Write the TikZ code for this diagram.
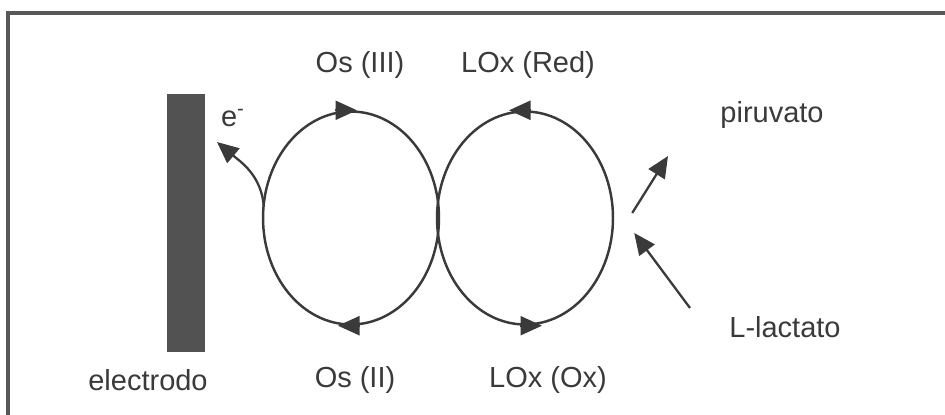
\documentclass[tikz,border=0pt]{standalone}
\usepackage{fontspec}
\setmainfont{Liberation Sans}
\usetikzlibrary{arrows.meta,shapes.geometric,calc}
\definecolor{ink}{HTML}{3A3A3A}
\begin{document}
\begin{tikzpicture}[x=0.02cm,y=0.02cm,
  font=\fontsize{16.5}{19}\selectfont, text=ink,
  t/.style={inner sep=0pt,anchor=center},
  lp/.style={draw=ink,line width=1.4pt,ellipse,inner sep=0pt,
            minimum width=3.52cm,minimum height=4.26cm},
  a/.style={draw=ink,line width=1.3pt,-{Triangle[length=4.3mm,width=3.8mm]}}]
\useasboundingbox (0,0) rectangle (945,-415);
\draw[line width=1.9pt,draw=ink!85] (8,-415) -- (8,-13) -- (945,-13);
\node[fill=ink!88,inner sep=0pt,minimum width=0.76cm,minimum height=5.16cm] (el) at (186,-223) {};
\node[lp] (os) at (351,-218) {};
\node[lp] (lox) at (525,-218) {};
% ciclos
\draw[a] ($(os.north)+(-16,0)$) -- ($(os.north)+(6,0)$);
\draw[a] ($(os.south)+(9,0)$) -- ($(os.south)+(-13,0)$);
\draw[a] ($(lox.north)+(6,0)$) -- ($(lox.north)+(-16,0)$);
\draw[a] ($(lox.south)+(-5,0)$) -- ($(lox.south)+(17,0)$);
% etiquetas
\node[t] (osiii) at (360,-65) {Os (III)};
\node[t] (loxred) at (528,-65) {LOx (Red)};
\node[t] (osii) at (355,-380) {Os (II)};
\node[t] (loxox) at (548,-380) {LOx (Ox)};
\node[t] (elec) at (148,-380) {electrodo};
\node[t] (elab) at (233,-118) {e\textsuperscript{-}};
\node[t] (piru) at (772,-115) {piruvato};
\node[t] (lact) at (785,-327) {L-lactato};
% flechas
\coordinate (etip) at (217,-142);
\coordinate (ptip) at (668,-156);
\coordinate (lst) at (690,-308);
\draw[a] ($(os.west)+(2,12)$) to[out=95,in=-40] (etip);
\draw[a] ($(lox.east)+(18,5)$) -- (ptip);
\draw[a] (lst) -- ($(lox.east)+(20,-15)$);
\end{tikzpicture}
\end{document}
